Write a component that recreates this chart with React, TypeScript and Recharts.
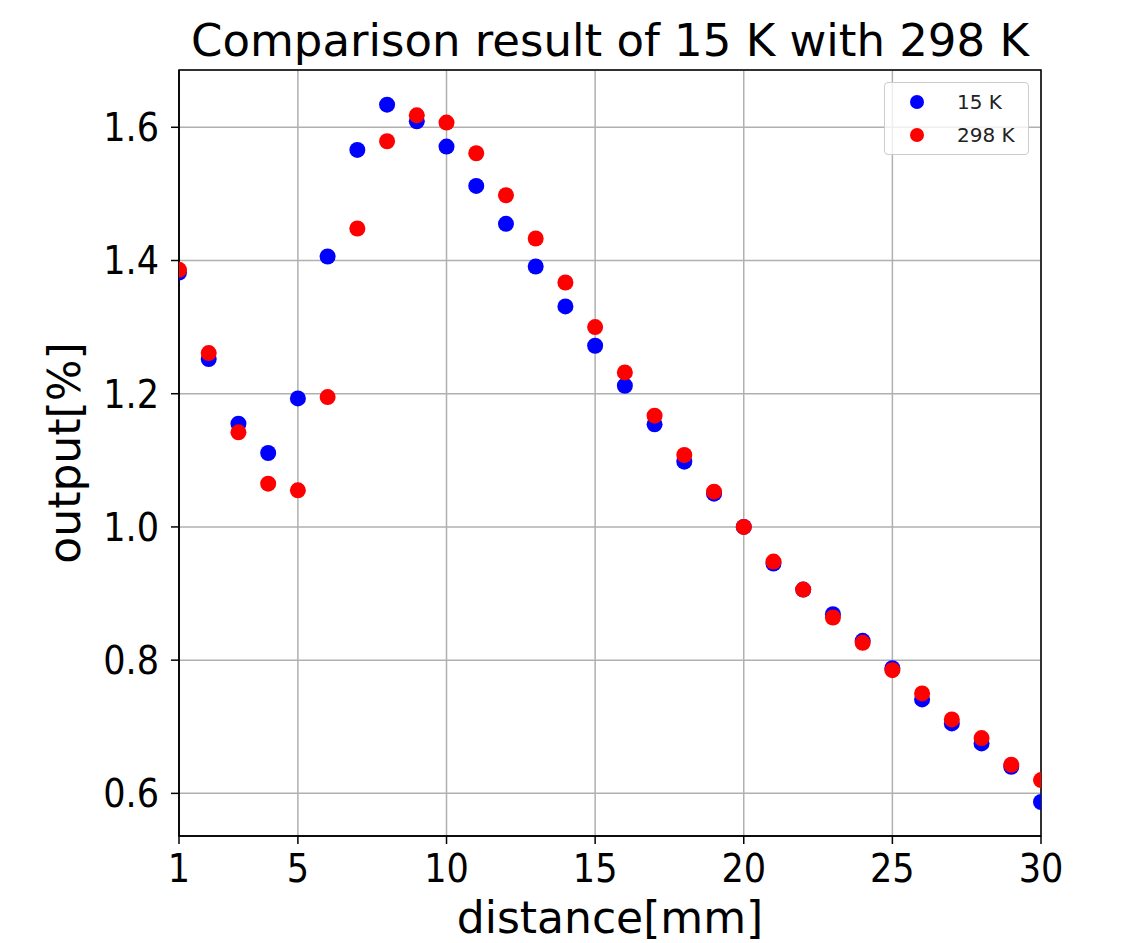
import {
  ScatterChart, Scatter, XAxis, YAxis, CartesianGrid, Legend, ReferenceArea,
} from 'recharts';

const distance = [
  1, 2, 3, 4, 5, 6, 7, 8, 9, 10, 11, 12, 13, 14, 15,
  16, 17, 18, 19, 20, 21, 22, 23, 24, 25, 26, 27, 28, 29, 30,
];

const output15K = [
  1.382, 1.252, 1.155, 1.111, 1.193, 1.406, 1.566, 1.634, 1.609, 1.571,
  1.512, 1.455, 1.391, 1.331, 1.272, 1.212, 1.154, 1.098, 1.05, 1.0,
  0.945, 0.906, 0.869, 0.829, 0.788, 0.741, 0.705, 0.675, 0.64, 0.587,
];

const output298K = [
  1.386, 1.261, 1.142, 1.065, 1.055, 1.195, 1.448, 1.579, 1.618, 1.607,
  1.561, 1.498, 1.433, 1.367, 1.3, 1.232, 1.167, 1.108, 1.053, 1.0,
  0.948, 0.906, 0.864, 0.826, 0.785, 0.75, 0.711, 0.683, 0.643, 0.62,
];

const xTicks = [1, 5, 10, 15, 20, 25, 30];
const yTicks = [0.6, 0.8, 1.0, 1.2, 1.4, 1.6];
const xDomain: [number, number] = [1, 30];
const yDomain: [number, number] = [0.536, 1.686];

const seriesNames = ['15 K', '298 K'];
const seriesColors = ['#0000ff', '#ff0000'];

const font = '"DejaVu Sans", sans-serif';
const tickFont = '"DejaVu Sans Condensed", "DejaVu Sans", sans-serif';

const data15 = distance.map((d, i) => ({ distance: d, output: output15K[i] }));
const data298 = distance.map((d, i) => ({ distance: d, output: output298K[i] }));

const dot = (color: string) => (props: any) => (
  <circle cx={props.cx} cy={props.cy} r={8} fill={color} />
);

function LegendBox() {
  return (
    <div
      style={{
        width: 143,
        height: 71,
        border: '1px solid #cccccc',
        borderRadius: 4,
        background: 'rgba(255,255,255,0.8)',
        position: 'relative',
        fontFamily: font,
        fontSize: 20,
        color: '#222',
      }}
    >
      {seriesNames.map((name, i) => (
        <div
          key={name}
          style={{
            position: 'absolute',
            left: 0,
            top: 5 + i * 33,
            height: 28,
            display: 'flex',
            alignItems: 'center',
          }}
        >
          <svg width={60} height={28}>
            <circle cx={32} cy={14} r={7} fill={seriesColors[i]} />
          </svg>
          <span style={{ marginLeft: 12 }}>{name}</span>
        </div>
      ))}
    </div>
  );
}

export default function App() {
  const tickStyle = { fontSize: 39, fill: '#000', fontFamily: tickFont };
  return (
    <div style={{ position: 'absolute', left: 0, top: 0, width: 1128, height: 943, background: '#fff' }}>
      <ScatterChart
        width={1128}
        height={943}
        margin={{ top: 70, right: 87, bottom: 47, left: 79 }}
      >
        <CartesianGrid stroke="#b0b0b0" strokeWidth={1.5} />
        <XAxis
          dataKey="distance"
          type="number"
          domain={xDomain}
          ticks={xTicks}
          allowDataOverflow
          height={60}
          tick={tickStyle}
          tickSize={8}
          tickMargin={10}
          axisLine={{ stroke: '#000', strokeWidth: 1.5 }}
          tickLine={{ stroke: '#000', strokeWidth: 1.5 }}
        />
        <YAxis
          dataKey="output"
          type="number"
          domain={yDomain}
          ticks={yTicks}
          allowDataOverflow
          width={100}
          tick={tickStyle}
          tickSize={8}
          tickMargin={12}
          tickFormatter={(v: number) => v.toFixed(1)}
          axisLine={{ stroke: '#000', strokeWidth: 1.5 }}
          tickLine={{ stroke: '#000', strokeWidth: 1.5 }}
        />
        <ReferenceArea
          x1={xDomain[0]}
          x2={xDomain[1]}
          y1={yDomain[0]}
          y2={yDomain[1]}
          fill="none"
          fillOpacity={0}
          stroke="#000"
          strokeWidth={1.5}
        />
        <Scatter
          name={seriesNames[0]}
          data={data15}
          fill={seriesColors[0]}
          shape={dot(seriesColors[0])}
          isAnimationActive={false}
        />
        <Scatter
          name={seriesNames[1]}
          data={data298}
          fill={seriesColors[1]}
          shape={dot(seriesColors[1])}
          isAnimationActive={false}
        />
        <Legend
          layout="horizontal"
          verticalAlign="middle"
          align="center"
          content={() => <LegendBox />}
          wrapperStyle={{ left: 884, top: 82, width: 145 }}
        />
      </ScatterChart>
      <svg
        width={1128}
        height={943}
        style={{ position: 'absolute', left: 0, top: 0, pointerEvents: 'none' }}
      >
        <text x={610} y={56} textAnchor="middle" fontSize={45} fontFamily={font} fill="#000">
          Comparison result of 15 K with 298 K
        </text>
        <text x={610} y={933} textAnchor="middle" fontSize={44} fontFamily={font} fill="#000">
          distance[mm]
        </text>
        <text
          transform="translate(80,453) rotate(-90)"
          textAnchor="middle"
          fontSize={44}
          fontFamily={font}
          fill="#000"
        >
          output[%]
        </text>
      </svg>
    </div>
  );
}
